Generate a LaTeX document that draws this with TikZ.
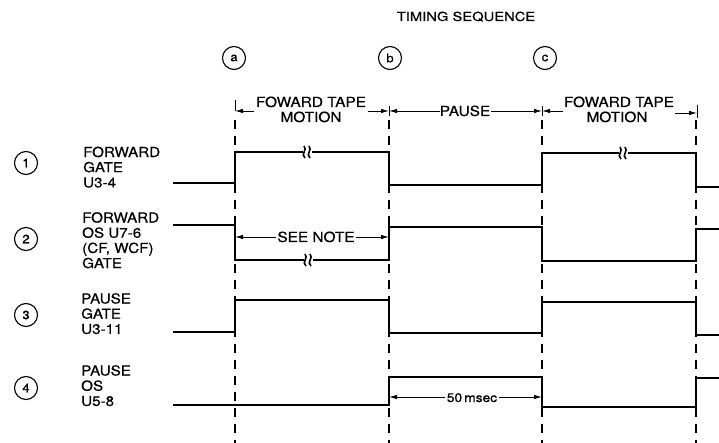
\documentclass[tikz,border=0pt]{standalone}
\usepackage{fontspec}
\setmainfont{TeX Gyre Heros}[FakeStretch=1.1,FakeBold=0.6]
\newfontfamily\titlefont{TeX Gyre Heros}[FakeStretch=1.18,FakeBold=0.5]
\usetikzlibrary{arrows.meta}
\tikzset{
  sig/.style={line width=2.6pt},
  guide/.style={line width=1.4pt, dash pattern=on 9pt off 7pt},
  dim/.style={line width=0.9pt},
  tipto/.style={dim, -{Latex[length=8pt,width=4.5pt]}},
  lbl/.style={font=\fontsize{13.8}{15.2}\selectfont, align=left, anchor=north west, inner sep=0pt},
  dimtxt/.style={font=\fontsize{14}{15}\selectfont, anchor=base, inner sep=0pt},
  num/.style={circle, draw, line width=1.1pt, minimum size=23pt, inner sep=0pt, font=\fontsize{12}{12}\selectfont},
  brk/.pic={
    \fill[white] (-4.5,-6) rectangle (4.5,6);
    \draw[line width=1.6pt] (-2,6) .. controls (-7,2) and (1,-2) .. (-3,-6);
    \draw[line width=1.6pt] (3,6) .. controls (-2,2) and (6,-2) .. (2,-6);
  }
}
\begin{document}
\begin{tikzpicture}[x=1pt,y=-1pt]
\useasboundingbox (0,0) rectangle (719,443);

% title
\node[font=\titlefont\fontsize{12.5}{12.5}\selectfont, anchor=base, inner sep=0pt] (title) at (466,21) {TIMING SEQUENCE};

% time markers
\node[num] (ma) at (234,58) {a};
\node[num] (mb) at (390,58) {b};
\node[num] (mc) at (545,58) {c};

% guide lines
\foreach \gx/\gn in {235/ga,389/gb,542/gc,696/gd}{
  \coordinate (\gn top) at (\gx,120);
  \coordinate (\gn bot) at (\gx,443);
  \draw[guide] (\gn top) -- (\gn bot);
}

% top dimension line
\node[dimtxt] (ft1) at (311,107) {FOWARD TAPE};
\node[dimtxt] (mo1) at (311,122) {MOTION};
\node[dimtxt] (ps) at (465,116) {PAUSE};
\node[dimtxt] (ft2) at (619,107) {FOWARD TAPE};
\node[dimtxt] (mo2) at (617,122) {MOTION};

\coordinate (ta0) at (235,100);
\coordinate (ta) at (235,111);
\coordinate (tb) at (389,111);
\coordinate (tc) at (542,111);
\coordinate (td) at (697,113);
\coordinate (l1) at (254,111);
\coordinate (r1) at (368,111);
\coordinate (l2) at (440,111);
\coordinate (r2) at (491,111);
\coordinate (l3) at (563,111);
\coordinate (r3) at (675,113);
\draw[dim] (ta0) -- (ta);
\draw[dim] (389,106) -- (389,116);
\draw[dim] (542,106) -- (542,116);
\draw[dim] (697,105) -- (697,118);
\draw[tipto] (l1) -- (ta);
\draw[tipto] (r1) -- (tb);
\draw[tipto] (l2) -- (tb);
\draw[tipto] (r2) -- (tc);
\draw[tipto] (l3) -- (tc);
\draw[tipto] (r3) -- (td);

% row labels
\node[num] (n1) at (26,163) {1};
\node[num] (n2) at (26,239) {2};
\node[num] (n3) at (26,315) {3};
\node[num] (n4) at (26,388) {4};
\node[lbl] (t1) at (83,146.5) {FORWARD\\GATE\\U3-4};
\node[lbl] (t2) at (82,212) {FORWARD\\OS U7-6\\(CF, WCF)\\GATE};
\node[lbl] (t3) at (81,293) {PAUSE\\GATE\\U3-11};
\node[lbl] (t4) at (81,365) {PAUSE\\OS\\U5-8};

% row 1
\draw[sig] (173,183) -- (235,183) -- (235,152) -- (389,152) -- (389,185) -- (542,185) -- (542,153) -- (696,153) -- (696,187) -- (719,187);
\pic at (307,152) {brk};
\pic at (623,153) {brk};

% row 2
\draw[sig] (173,225) -- (235,225);
\draw[sig] (235,217) -- (235,261);
\draw[sig] (235,260) -- (389,260);
\draw[sig] (389,217) -- (389,261);
\draw[sig] (389,227) -- (542,227) -- (542,261) -- (696,261) -- (696,229) -- (719,229);
\pic at (308,260) {brk};
\node[dimtxt] (note) at (316,242) {SEE NOTE};
\coordinate (na) at (235,237);
\coordinate (nb) at (389,237);
\coordinate (nl) at (276,237);
\coordinate (nr) at (356,237);
\draw[tipto] (nl) -- (na);
\draw[tipto] (nr) -- (nb);

% row 3
\draw[sig] (173,332) -- (235,332) -- (235,300) -- (389,300) -- (389,333) -- (542,333) -- (542,302) -- (696,302) -- (696,335) -- (719,335);

% row 4
\draw[sig] (173,405) -- (389,405) -- (389,377) -- (542,377) -- (542,407) -- (696,407) -- (696,378) -- (719,378);
\node[font=\fontsize{12.5}{12.5}\selectfont, anchor=base, inner sep=0pt] (ms) at (472,402) {50\,msec};
\coordinate (ma1) at (389,397);
\coordinate (mb1) at (542,397);
\coordinate (ml) at (445,397);
\coordinate (mr) at (499,397);
\draw[tipto] (ml) -- (ma1);
\draw[tipto] (mr) -- (mb1);
\end{tikzpicture}
\end{document}
